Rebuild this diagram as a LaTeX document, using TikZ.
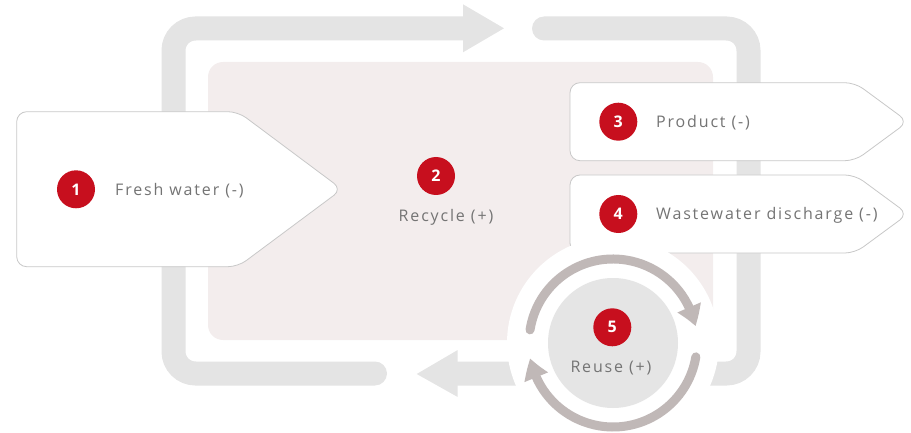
\documentclass[tikz,border=0pt]{standalone}
\usepackage{fontspec}
\setmainfont{Open Sans}
\newfontfamily\lblfont[LetterSpace=11.5]{Open Sans}
\usetikzlibrary{arrows.meta,bending}
\definecolor{loopgray}{HTML}{E4E4E4}
\definecolor{pinkbg}{HTML}{F3EDED}
\definecolor{boxline}{HTML}{C8C8C8}
\definecolor{badgered}{HTML}{C70F1E}
\definecolor{txtgray}{HTML}{747474}
\definecolor{reusegray}{HTML}{E5E5E5}
\definecolor{arcgray}{HTML}{C0B8B7}
\tikzset{
  loopband/.style={draw=loopgray, line width=24pt, line cap=round, rounded corners=22pt},
  flowbox/.style={draw=boxline, line width=0.8pt, fill=white, rounded corners=10pt},
  badge/.style={circle, fill=badgered, minimum size=38pt, inner sep=0pt, text=white,
    font=\bfseries\fontsize{16}{16}\selectfont},
  lbl/.style={text=txtgray, inner sep=0pt, font=\lblfont\fontsize{16}{18}\selectfont},
  cyclearc/.style={draw=arcgray, line width=9pt, line cap=round,
    -{Triangle[width=24pt,length=20pt,bend]}}
}
\begin{document}
\begin{tikzpicture}[x=1pt,y=-1pt]
\useasboundingbox (0,0) rectangle (911,433);
% outer loop
\draw[loopband] (375,373.5) -- (173.5,373.5) -- (173.5,28.5) -- (463,28.5);
\fill[loopgray] (463,4.3) -- (504,28.3) -- (463,52.3) -- cycle;
\draw[loopband] (544,28.5) -- (748.5,28.5) -- (748.5,373.5) -- (457,373.5);
\fill[loopgray] (457.7,350) -- (416.7,374) -- (457.7,397) -- cycle;
% recycle area
\fill[pinkbg, rounded corners=15pt] (208,62) rectangle (713,340);
% boxes
\draw[flowbox] (16.7,111.7) -- (238,111.7) -- (342,189.3) -- (238,266.7) -- (16.7,266.7) -- cycle;
\draw[flowbox] (570,82.7) -- (855,82.7) -- (908,121.7) -- (855,160.7) -- (570,160.7) -- cycle;
\draw[flowbox] (570,175) -- (855,175) -- (908,214) -- (855,253) -- (570,253) -- cycle;
% reuse
\fill[white] (613,343) circle (106);
\fill[reusegray] (613,343) circle (65);
\draw[cyclearc] ([shift={(189:84)}]613,343) arc (189:348.5:84);
\draw[cyclearc] ([shift={(9.5:84)}]613,343) arc (9.5:169.5:84);
% badges and labels
\node[badge] (b1) at (76,189.3) {1};
\node[lbl, anchor=west] (t1) at (115,190.5) {Fresh water (-)};
\node[badge] (b2) at (436,176) {2};
\node[lbl] (t2) at (446,217.5) {Recycle (+)};
\node[badge] (b3) at (618.3,121.7) {3};
\node[lbl, anchor=west] (t3) at (656,123) {Product (-)};
\node[badge] (b4) at (618.3,214) {4};
\node[lbl, anchor=west] (t4) at (656,215.3) {Wastewater discharge (-)};
\node[badge] (b5) at (612.3,327.3) {5};
\node[lbl] (t5) at (611,368.3) {Reuse (+)};
\end{tikzpicture}
\end{document}
